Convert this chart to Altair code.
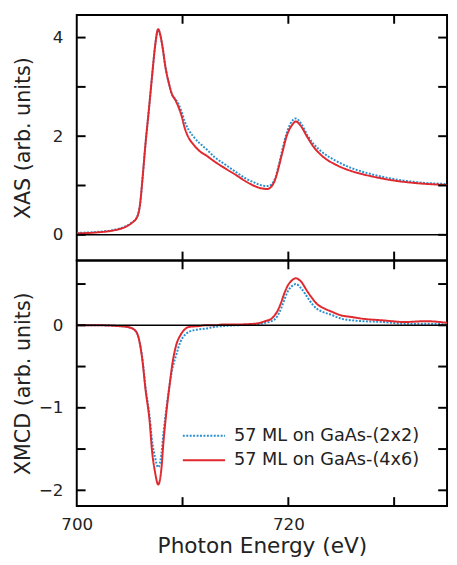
import altair as alt
import pandas as pd

# ---------------- data ----------------
series_names = ["57 ML on GaAs-(2x2)", "57 ML on GaAs-(4x6)"]
series_colors = ["#2a8fd1", "#e0292f"]
series_dashes = [[2, 1.5], [1, 0]]

energy_xas = [700.0, 702.0, 703.5, 704.5, 705.2, 705.7, 706.0, 706.2, 706.5, 706.8,
              707.0, 707.2, 707.4, 707.7, 707.9, 708.1, 708.4, 708.7, 709.0, 709.3,
              709.6, 709.9, 710.2, 710.6, 711.0, 711.6, 712.3, 713.0, 714.0, 715.0,
              716.0, 716.8, 717.5, 718.0, 718.4, 718.8, 719.1, 719.4, 719.9, 720.4,
              720.7, 721.2, 721.8, 722.4, 723.3, 724.5, 726.0, 727.0, 728.0, 730.0,
              732.0, 735.0]
xas_2x2 = [0.04, 0.06, 0.10, 0.16, 0.25, 0.36, 0.65, 1.10, 1.85, 2.50,
           2.95, 3.40, 3.82, 4.16, 4.05, 3.82, 3.38, 3.08, 2.85, 2.76,
           2.66, 2.50, 2.30, 2.12, 2.00, 1.86, 1.73, 1.58, 1.43, 1.28,
           1.14, 1.06, 1.00, 0.99, 1.02, 1.18, 1.42, 1.70, 2.10, 2.32,
           2.36, 2.26, 2.02, 1.84, 1.66, 1.50, 1.35, 1.28, 1.22, 1.13,
           1.07, 1.03]
xas_4x6 = [0.03, 0.05, 0.09, 0.15, 0.24, 0.36, 0.65, 1.10, 1.85, 2.50,
           2.95, 3.40, 3.82, 4.17, 4.05, 3.82, 3.38, 3.08, 2.85, 2.74,
           2.60, 2.42, 2.17, 1.96, 1.84, 1.70, 1.60, 1.49, 1.35, 1.22,
           1.08, 0.99, 0.94, 0.93, 0.98, 1.15, 1.38, 1.64, 2.04, 2.24,
           2.30, 2.20, 1.98, 1.78, 1.58, 1.42, 1.29, 1.23, 1.18, 1.10,
           1.05, 1.01]

energy_xmcd = [700.0, 702.0, 704.0, 704.8, 705.5, 705.9, 706.2, 706.5, 706.9, 707.1,
               707.4, 707.7, 708.0, 708.2, 708.5, 708.8, 709.0, 709.4, 709.8, 710.2,
               710.6, 711.5, 712.2, 713.0, 713.8, 715.0, 716.9, 717.8, 718.4, 718.7,
               719.0, 719.3, 719.6, 719.9, 720.3, 720.7, 721.2, 721.8, 722.3, 722.7,
               723.3, 724.0, 725.0, 726.0, 727.0, 728.9, 731.0, 733.0, 735.0]
xmcd_2x2 = [0.00, 0.00, -0.01, -0.02, -0.06, -0.18, -0.40, -0.75, -1.12, -1.38,
            -1.60, -1.72, -1.56, -1.30, -0.98, -0.70, -0.55, -0.36, -0.20, -0.12,
            -0.08, -0.05, -0.04, -0.02, -0.01, 0.00, 0.01, 0.03, 0.05, 0.07,
            0.12, 0.20, 0.30, 0.40, 0.47, 0.50, 0.45, 0.34, 0.25, 0.20,
            0.16, 0.13, 0.08, 0.06, 0.05, 0.04, 0.02, 0.02, 0.01]
xmcd_4x6 = [0.00, 0.00, -0.01, -0.02, -0.06, -0.18, -0.42, -0.78, -1.18, -1.50,
            -1.78, -1.93, -1.74, -1.41, -1.02, -0.70, -0.50, -0.24, -0.12, -0.05,
            -0.02, -0.01, 0.00, 0.00, 0.01, 0.01, 0.02, 0.05, 0.08, 0.12,
            0.18, 0.27, 0.38, 0.47, 0.54, 0.57, 0.53, 0.41, 0.32, 0.26,
            0.21, 0.17, 0.12, 0.10, 0.08, 0.06, 0.04, 0.05, 0.03]

x_domain = [700, 735]
x_tick_values = [710, 720, 730]
x_label_values = [700, 720]
xas_domain = [-0.52, 4.46]
xas_tick_values = [0, 1, 2, 3, 4]
xas_label_values = [0, 2, 4]
xmcd_domain = [-2.19, 0.786]
xmcd_tick_values = [-2, -1.5, -1, -0.5, 0, 0.5]
xmcd_label_values = [-2, -1, 0]

# ---------------- build ----------------
W, H, TL = 377, 250, 9
FONT = "DejaVu Sans"


def long_frame(energy, a, b):
    return pd.DataFrame({
        "energy": list(energy) * 2,
        "value": list(a) + list(b),
        "series": [series_names[0]] * len(energy) + [series_names[1]] * len(energy),
    })


def panel(df, ydomain, ytick_vals, ylabel_vals, ytitle, bottom):
    xs = alt.Scale(domain=x_domain, nice=False, zero=False)
    ys = alt.Scale(domain=ydomain, nice=False, zero=False)
    if bottom:
        xaxis = alt.Axis(values=x_label_values, ticks=False, domain=False, grid=False,
                         labelPadding=11, labelFlush=False, title="Photon Energy (eV)",
                         format="d", titleFontSize=22, titlePadding=3)
        leg = alt.Legend(orient="none", legendX=107, legendY=166, title=None,
                         symbolType="stroke", symbolSize=1849, symbolStrokeWidth=2,
                         labelFontSize=18, labelFont=FONT, labelColor="#222",
                         labelOffset=8, labelLimit=400, clipHeight=25, padding=0,
                         rowPadding=0)
    else:
        xaxis = None
        leg = None
    yaxis = alt.Axis(values=ylabel_vals, ticks=False, domain=False, grid=False,
                     labelPadding=14, labelFlush=False, title=ytitle,
                     minExtent=32, maxExtent=32, titlePadding=12)
    lines = alt.Chart(df).mark_line(strokeWidth=2, clip=True, interpolate="monotone").encode(
        x=alt.X("energy:Q", scale=xs, axis=xaxis),
        y=alt.Y("value:Q", scale=ys, axis=yaxis),
        color=alt.Color("series:N", scale=alt.Scale(domain=series_names, range=series_colors),
                        legend=leg),
        strokeDash=alt.StrokeDash("series:N",
                                  scale=alt.Scale(domain=series_names, range=series_dashes),
                                  legend=leg),
    )
    zero = alt.Chart(pd.DataFrame({"z": [0]})).mark_rule(color="black", strokeWidth=1.5).encode(
        y=alt.Y("z:Q", scale=ys, axis=yaxis)
    )
    ydf = pd.DataFrame({"t": ytick_vals})
    xdf = pd.DataFrame({"t": x_tick_values})
    rule = dict(color="black", strokeWidth=2)
    left = alt.Chart(ydf).mark_rule(**rule).encode(
        y=alt.Y("t:Q", scale=ys, axis=yaxis), x=alt.value(0), x2=alt.value(TL))
    right = alt.Chart(ydf).mark_rule(**rule).encode(
        y=alt.Y("t:Q", scale=ys, axis=yaxis), x=alt.value(W - TL), x2=alt.value(W))
    top = alt.Chart(xdf).mark_rule(**rule).encode(
        x=alt.X("t:Q", scale=xs, axis=xaxis), y=alt.value(0), y2=alt.value(TL))
    bot = alt.Chart(xdf).mark_rule(**rule).encode(
        x=alt.X("t:Q", scale=xs, axis=xaxis), y=alt.value(H - TL), y2=alt.value(H))
    return alt.layer(lines, zero, left, right, top, bot).properties(width=W, height=H)


top_panel = panel(long_frame(energy_xas, xas_2x2, xas_4x6), xas_domain,
                  xas_tick_values, xas_label_values, "XAS (arb. units)", False)
bottom_panel = panel(long_frame(energy_xmcd, xmcd_2x2, xmcd_4x6), xmcd_domain,
                     xmcd_tick_values, xmcd_label_values, "XMCD (arb. units)", True)

chart = alt.vconcat(top_panel, bottom_panel, spacing=0, bounds="flush").resolve_scale(
    y="independent", color="independent", strokeDash="independent"
).resolve_axis(
    x="independent", y="independent"
).properties(
    padding={"left": 4, "top": 0, "right": 0, "bottom": 0}
).configure_view(
    stroke="black", strokeWidth=2
).configure_axis(
    labelFont=FONT, labelFontSize=17, labelColor="#222",
    titleFont=FONT, titleFontSize=21, titleFontWeight="normal", titleColor="#222"
).configure_legend(
    labelFont=FONT
)

chart.save("out.html", embed_options={"renderer": "svg", "actions": False})
